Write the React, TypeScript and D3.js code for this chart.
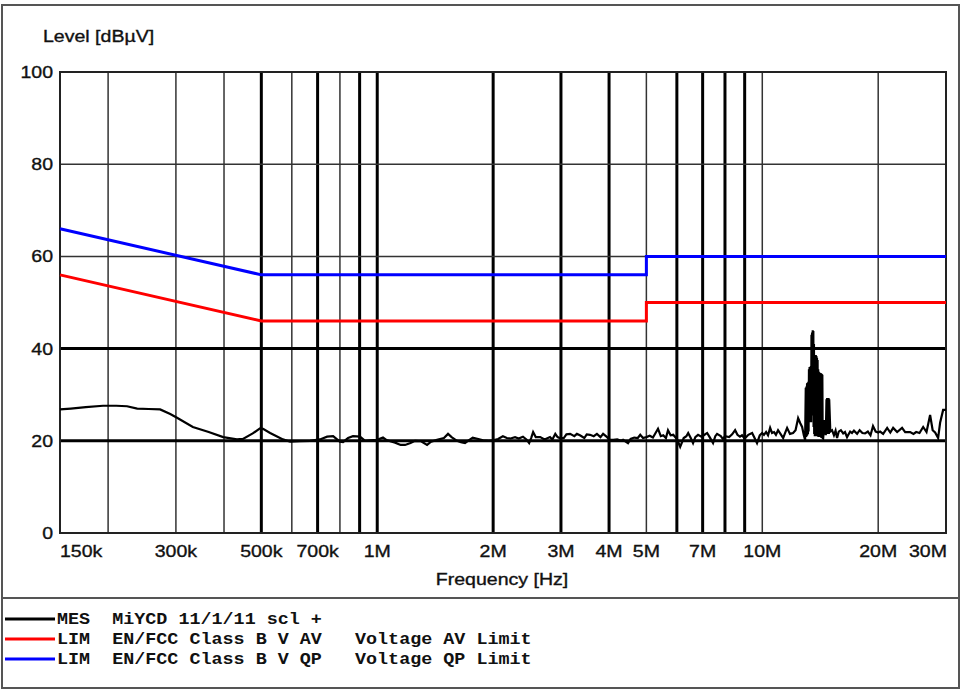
import React from 'react';
import * as d3 from 'd3';

// page size
const W = 961;
const H = 690;
// plot area (px)
const margin = { left: 60, right: 946, top: 72, bottom: 533 };

// x ticks in MHz and their labels
const tickFreqs = [0.15, 0.3, 0.5, 0.7, 1, 2, 3, 4, 5, 7, 10, 20, 30];
const tickLabels = ['150k', '300k', '500k', '700k', '1M', '2M', '3M', '4M', '5M', '7M', '10M', '20M', '30M'];
const gridFreqs = [0.2, 0.3, 0.4, 0.5, 0.6, 0.7, 0.8, 0.9, 1, 2, 3, 4, 5, 6, 7, 8, 9, 10, 20];
const heavyGrid = [0.5, 0.7, 0.9, 1, 2, 3, 4, 6, 7, 8, 9];
const levelTicks = [0, 20, 40, 60, 80, 100];
const heavyLevels = [20, 40];

// limit lines [MHz, dBuV]
const qpLimit: [number, number][] = [[0.15, 66], [0.5, 56], [5, 56], [5, 60], [30, 60]];
const avLimit: [number, number][] = [[0.15, 56], [0.5, 46], [5, 46], [5, 50], [30, 50]];

const measurement: [number, number][] = [
  [0.15, 26.8], [0.16, 27.0], [0.175, 27.3], [0.194, 27.6], [0.21, 27.6], [0.224, 27.5],
  [0.238, 27.0], [0.255, 26.9], [0.273, 26.8], [0.29, 25.8], [0.302, 25.0], [0.332, 23.0],
  [0.365, 21.9], [0.398, 20.8], [0.432, 20.3], [0.448, 20.4], [0.475, 21.6], [0.496, 22.7],
  [0.505, 22.6], [0.527, 21.7], [0.569, 20.3], [0.594, 19.8], [0.63, 19.9], [0.669, 20.0],
  [0.71, 20.3], [0.741, 20.9], [0.768, 21.0], [0.8, 19.8], [0.815, 19.7], [0.84, 20.6],
  [0.865, 21.0], [0.902, 20.9], [0.93, 20.0], [0.958, 20.1], [1.0, 20.2], [1.035, 20.7],
  [1.06, 20.1], [1.113, 19.6], [1.15, 19.1], [1.181, 19.1], [1.22, 19.5], [1.254, 20.0],
  [1.3, 19.9], [1.347, 19.1], [1.38, 19.8], [1.43, 20.2], [1.49, 20.6], [1.527, 21.5],
  [1.56, 20.8], [1.611, 20.0], [1.65, 19.7], [1.69, 19.5], [1.72, 20.0], [1.77, 20.7],
  [1.83, 20.4], [1.883, 20.1], [1.95, 20.0], [2.0, 20.1], [2.06, 20.4], [2.12, 21.0],
  [2.17, 20.6], [2.22, 20.5], [2.28, 20.8], [2.33, 20.5], [2.39, 20.9], [2.44, 20.3],
  [2.48, 19.5], [2.51, 20.6], [2.54, 21.9], [2.58, 20.8], [2.65, 20.8], [2.72, 20.3],
  [2.81, 20.8], [2.85, 20.3], [2.9, 21.5], [2.94, 20.8], [2.98, 20.6], [3.05, 20.6],
  [3.1, 21.4], [3.17, 21.5], [3.25, 21.0], [3.3, 21.5], [3.36, 21.2], [3.45, 20.6],
  [3.5, 21.4], [3.57, 21.3], [3.65, 21.0], [3.72, 21.5], [3.8, 20.8], [3.86, 21.5],
  [3.94, 20.9], [4.02, 20.2], [4.1, 20.2], [4.2, 20.3], [4.3, 20.0], [4.35, 20.2],
  [4.48, 19.5], [4.55, 20.4], [4.65, 20.7], [4.75, 20.6], [4.82, 21.3], [4.9, 20.6],
  [5.0, 20.8], [5.1, 21.1], [5.2, 20.7], [5.36, 22.6], [5.45, 21.0], [5.53, 21.2],
  [5.62, 20.6], [5.69, 22.3], [5.78, 21.2], [5.87, 21.3], [6.0, 20.4], [6.12, 18.7],
  [6.25, 20.6], [6.35, 21.0], [6.42, 21.7], [6.52, 20.6], [6.61, 19.5], [6.7, 20.8],
  [6.81, 21.3], [6.95, 20.9], [7.05, 21.2], [7.19, 21.7], [7.3, 20.8], [7.45, 19.5],
  [7.55, 21.0], [7.63, 21.5], [7.8, 21.0], [7.9, 20.4], [8.0, 21.0], [8.2, 20.8],
  [8.35, 21.4], [8.5, 22.3], [8.62, 21.3], [8.75, 20.9], [8.86, 21.2], [9.0, 20.5],
  [9.2, 21.3], [9.41, 21.7], [9.55, 20.6], [9.69, 19.5], [9.85, 21.2], [9.99, 21.7],
  [10.1, 21.3], [10.23, 21.9], [10.35, 21.2], [10.48, 22.8], [10.6, 21.7], [10.73, 21.9],
  [10.85, 21.3], [10.99, 22.3], [11.15, 21.5], [11.33, 20.6], [11.45, 21.6], [11.6, 22.8],
  [11.8, 21.5], [12.02, 21.7], [12.2, 22.3], [12.39, 24.9], [12.55, 23.8], [12.69, 23.0],
  [12.82, 21.2], [12.92, 20.2],
  [12.97, 31.5], [12.99, 20.8], [13.02, 31.8], [13.04, 21.0], [13.07, 32.5], [13.09, 21.2],
  [13.12, 32.6], [13.14, 21.5], [13.17, 32.8], [13.19, 22.0], [13.22, 35.5], [13.24, 24.0],
  [13.27, 36.0], [13.29, 24.5], [13.32, 36.0], [13.34, 24.5], [13.37, 36.2], [13.39, 24.0],
  [13.42, 43.0], [13.44, 25.5], [13.47, 43.5], [13.49, 26.0], [13.52, 44.0], [13.54, 25.5],
  [13.57, 43.8], [13.59, 23.0], [13.62, 41.0], [13.64, 21.5], [13.67, 38.6], [13.69, 21.0],
  [13.72, 38.6], [13.74, 21.0], [13.77, 38.6], [13.79, 21.0], [13.82, 38.4], [13.84, 21.0],
  [13.87, 38.0], [13.89, 21.0], [13.92, 37.5], [13.94, 21.0], [13.97, 35.5], [13.99, 20.8],
  [14.02, 35.0], [14.04, 20.8], [14.07, 34.8], [14.09, 20.8], [14.12, 34.7], [14.14, 21.0],
  [14.17, 34.7], [14.19, 21.0], [14.22, 34.6], [14.24, 20.6], [14.27, 34.5], [14.29, 20.6],
  [14.32, 34.3], [14.35, 20.6], [14.39, 20.5],
  [14.52, 24.5], [14.62, 21.2], [14.68, 29.0], [14.71, 21.5], [14.74, 29.3], [14.77, 21.5],
  [14.8, 29.3], [14.83, 21.5], [14.86, 29.3], [14.89, 21.5], [14.92, 29.0], [15.02, 22.0],
  [15.18, 22.3], [15.35, 21.2], [15.5, 22.2], [15.64, 20.6],
  [15.8, 22.0], [16.0, 22.3], [16.22, 21.6], [16.4, 21.9], [16.6, 20.8], [16.91, 22.0],
  [17.1, 21.7], [17.3, 22.2], [17.63, 21.5], [17.9, 22.3], [18.2, 21.7], [18.49, 21.6],
  [18.8, 22.0], [19.1, 21.2], [19.39, 23.2], [19.7, 22.0], [20.0, 21.8], [20.23, 22.0],
  [20.6, 21.5], [21.1, 22.8], [21.5, 21.8], [21.87, 22.8], [22.4, 21.9], [23.07, 22.8],
  [23.5, 21.9], [24.21, 21.9], [24.7, 21.5], [25.1, 21.9], [25.6, 21.7], [26.17, 23.0],
  [26.7, 21.9], [27.28, 25.6], [27.7, 22.3], [28.11, 21.8], [28.62, 20.6], [28.96, 23.9],
  [29.49, 26.7], [30.0, 26.7],
];

// legend rows
const legendColors = ['#000000', '#ff0000', '#0000ff'];
const legendTexts = [
  'MES  MiYCD 11/1/11 scl +',
  'LIM  EN/FCC Class B V AV   Voltage AV Limit',
  'LIM  EN/FCC Class B V QP   Voltage QP Limit',
];

const SANS = '"Liberation Sans", Arial, sans-serif';
const MONO = '"Liberation Mono", "Courier New", monospace';

// text is slightly stretched horizontally in the original
function Label({ x, y, anchor = 'middle', children, font = SANS, size = 17, weight = 'normal' }: any) {
  return (
    <g transform={`translate(${x},${y}) scale(1.15,1)`}>
      <text
        textAnchor={anchor}
        fontFamily={font}
        fontSize={size}
        fontWeight={weight}
        fill="#111"
        stroke="#111"
        strokeWidth={weight === 'bold' ? 0 : 0.35}
        style={{ whiteSpace: 'pre' }}
      >
        {children}
      </text>
    </g>
  );
}

export default function App() {
  const x = d3.scaleLog().domain([0.15, 30]).range([margin.left, margin.right]);
  const y = d3.scaleLinear().domain([0, 100]).range([margin.bottom, margin.top]);
  const line = d3
    .line<[number, number]>()
    .x(d => x(d[0]))
    .y(d => y(d[1]));

  return (
    <svg width={W} height={H} style={{ position: 'absolute', left: 0, top: 0, background: '#fff' }}>
      {/* outer frame and legend separator */}
      <rect x={2} y={5} width={957} height={683} fill="none" stroke="#555" strokeWidth={2} />
      <line x1={2} x2={959} y1={598} y2={598} stroke="#555" strokeWidth={2} />

      {/* grid */}
      {gridFreqs.map(f => (
        <line
          key={'v' + f}
          x1={x(f)}
          x2={x(f)}
          y1={margin.top}
          y2={margin.bottom}
          stroke={heavyGrid.includes(f) ? '#000' : '#333'}
          strokeWidth={heavyGrid.includes(f) ? 3 : 1.5}
        />
      ))}
      {levelTicks.slice(1, -1).map(v => (
        <line
          key={'h' + v}
          x1={margin.left}
          x2={margin.right}
          y1={y(v)}
          y2={y(v)}
          stroke={heavyLevels.includes(v) ? '#000' : '#333'}
          strokeWidth={heavyLevels.includes(v) ? 3 : 1.5}
        />
      ))}
      <rect
        x={margin.left}
        y={margin.top}
        width={margin.right - margin.left}
        height={margin.bottom - margin.top}
        fill="none"
        stroke="#222"
        strokeWidth={2}
      />

      {/* limit lines */}
      <path d={line(avLimit) || ''} fill="none" stroke="#ff0000" strokeWidth={3} />
      <path d={line(qpLimit) || ''} fill="none" stroke="#0000ff" strokeWidth={3} />

      {/* measurement */}
      <path d={line(measurement) || ''} fill="none" stroke="#000" strokeWidth={2.2} strokeLinejoin="miter" />

      {/* y axis */}
      {levelTicks.map(v => (
        <Label key={'yl' + v} x={53} y={y(v) + 6} anchor="end">
          {String(v)}
        </Label>
      ))}
      <Label x={43} y={41.5} anchor="start">
        Level [dBµV]
      </Label>

      {/* x axis */}
      {tickFreqs.map((f, i) => (
        <Label
          key={'xl' + f}
          x={i === 0 ? margin.left : i === tickFreqs.length - 1 ? margin.right + 1 : x(f)}
          y={557}
          anchor={i === 0 ? 'start' : i === tickFreqs.length - 1 ? 'end' : 'middle'}
        >
          {tickLabels[i]}
        </Label>
      ))}
      <Label x={502} y={585}>
        Frequency [Hz]
      </Label>

      {/* legend */}
      {legendTexts.map((t, i) => (
        <g key={'lg' + i}>
          <line x1={5} x2={55} y1={619 + i * 20} y2={619 + i * 20} stroke={legendColors[i]} strokeWidth={3} />
          <Label x={57} y={624 + i * 20} anchor="start" font={MONO} size={16} weight="bold">
            {t}
          </Label>
        </g>
      ))}
    </svg>
  );
}
